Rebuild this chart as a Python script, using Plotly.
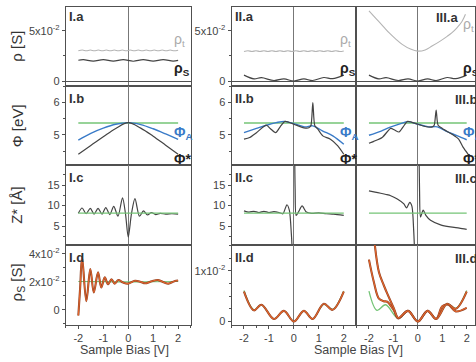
import plotly.graph_objects as go

FONT = "Arial, Liberation Sans, sans-serif"
W, H = 476, 362

# ---------------- data ----------------
# Row a : rho_t and rho_S  [S]
wave_x = [-2.0, -1.84, -1.68, -1.52, -1.36, -1.2, -1.04, -0.88, -0.72, -0.56, -0.4, -0.24, -0.08,
          0.08, 0.24, 0.4, 0.56, 0.72, 0.88, 1.04, 1.2, 1.36, 1.52, 1.68, 1.84, 2.0]
rho_t_I = [0.0301, 0.0309, 0.0301, 0.0309, 0.0301, 0.0309, 0.0301, 0.0309, 0.0301, 0.0309, 0.0301, 0.0309, 0.0301,
           0.0309, 0.0301, 0.0309, 0.0301, 0.0309, 0.0301, 0.0309, 0.0301, 0.0309, 0.0301, 0.0309, 0.0301, 0.0307]
rho_t_II = [0.0294, 0.0302, 0.0294, 0.0302, 0.0294, 0.0302, 0.0294, 0.0302, 0.0294, 0.0302, 0.0294, 0.0302, 0.0294,
            0.0302, 0.0294, 0.0302, 0.0294, 0.0302, 0.0294, 0.0302, 0.0294, 0.0302, 0.0294, 0.0302, 0.0294, 0.0300]
rho_S_I_x = [-2.0, -1.8, -1.4, -1.0, -0.6, -0.2, 0.2, 0.6, 1.0, 1.4, 1.8, 2.0]
rho_S_I_y = [0.0207, 0.0213, 0.0198, 0.0214, 0.0198, 0.0213, 0.0197, 0.0213, 0.0198, 0.0213, 0.0198, 0.0206]
rho_t_III_x = [-2.0, -1.7, -1.4, -1.18, -0.9, -0.64, -0.3, 0.0, 0.3, 0.58, 0.9, 1.2, 1.4, 1.6, 1.8, 1.95]
rho_t_III_y = [0.0698, 0.0620, 0.0540, 0.0482, 0.0418, 0.0365, 0.0318, 0.0298, 0.0310, 0.0348, 0.0395,
               0.0445, 0.0482, 0.0530, 0.0590, 0.0665]

# rho_S (rows a and d, columns II / III)
rs_x = [-2.0, -1.6, -1.3, -0.8, -0.4, 0.0, 0.4, 0.75, 1.2, 1.55, 2.0]
rs_II_orange = [0.0059, 0.0022, 0.0033, 0.0005, 0.0021, 0.0000, 0.0021, 0.0005, 0.0035, 0.0023, 0.0059]
rs_II_green = [0.0061, 0.0023, 0.0033, 0.0005, 0.0021, 0.0000, 0.0021, 0.0005, 0.0034, 0.0024, 0.0060]

# Row b : work functions [eV]
green_b_x = [-2.0, 2.0]
green_b_y = [5.37, 5.37]
phiA_I_x = [-2.0, -1.5, -1.0, -0.5, 0.0, 0.5, 1.0, 1.5, 2.0]
phiA_I_y = [4.84, 5.05, 5.21, 5.33, 5.38, 5.32, 5.19, 5.03, 4.86]
phiS_I_y = [4.40, 4.67, 4.94, 5.20, 5.38, 5.21, 4.96, 4.68, 4.40]
phiA_II_x = [-2.0, -1.5, -1.1, -0.71, -0.37, 0.0, 0.43, 0.76, 1.16, 1.56, 2.0]
phiA_II_y = [5.07, 5.20, 5.30, 5.38, 5.42, 5.35, 5.25, 5.28, 5.12, 4.97, 4.71]
phiS_II_x = [-2.0, -1.77, -1.5, -1.1, -0.95, -0.73, -0.55, -0.35, 0.0, 0.4, 0.6, 0.68, 0.76, 0.84,
             0.96, 1.16, 1.45, 1.76, 2.0]
phiS_II_y = [4.87, 4.92, 5.07, 5.30, 5.20, 5.07, 5.25, 5.42, 5.33, 5.22, 5.22, 5.28, 6.00, 5.28,
             5.18, 4.97, 4.87, 4.66, 4.40]
phiA_III_x = [-2.0, -1.5, -1.1, -0.7, -0.4, 0.0, 0.45, 0.8, 1.2, 1.6, 2.0]
phiA_III_y = [4.99, 5.12, 5.25, 5.35, 5.41, 5.33, 5.25, 5.25, 5.10, 4.98, 4.85]
phiS_III_x = [-2.0, -1.8, -1.46, -1.11, -0.95, -0.77, -0.6, -0.42, 0.0, 0.3, 0.59, 0.67, 0.75, 0.83,
              1.0, 1.4, 1.67, 1.85, 2.06]
phiS_III_y = [4.74, 4.80, 4.92, 5.20, 5.15, 5.09, 5.25, 5.42, 5.33, 5.26, 5.25, 5.30, 5.77, 5.30,
              5.20, 5.02, 4.87, 4.62, 4.40]

# Row c : Z* [A]
green_c_x = [-2.0, 2.0]
green_c_y = [8.15, 8.15]
Z_I_x = [-2.0, -1.85, -1.69, -1.52, -1.37, -1.21, -1.05, -0.9, -0.74, -0.58, -0.41, -0.23, -0.11,
         0.0, 0.13, 0.27, 0.45, 0.61, 0.77, 0.93, 1.1, 1.28, 1.5, 1.75, 2.0]
Z_I_y = [8.1, 9.4, 8.0, 9.3, 7.9, 9.3, 7.9, 9.5, 7.8, 9.8, 7.4, 11.9, 8.0,
         2.3, 8.0, 11.7, 7.4, 8.7, 7.7, 8.3, 7.8, 8.1, 7.9, 8.0, 7.9]
Z_II_left_x = [-2.0, -1.8, -1.6, -1.4, -1.2, -1.0, -0.8, -0.6, -0.44, -0.28, -0.18, -0.1, -0.05]
Z_II_left_y = [8.7, 8.4, 8.6, 8.3, 8.6, 8.3, 8.5, 8.3, 8.0, 10.2, 8.8, 3.0, -3.0]
Z_II_right_x = [0.02, 0.05, 0.09, 0.18, 0.33, 0.5, 0.7, 1.0, 1.3, 1.6, 2.0]
Z_II_right_y = [30.0, 14.0, 7.6, 8.4, 9.9, 8.4, 8.1, 8.2, 8.0, 7.9, 7.6]
Z_III_left_x = [-2.0, -1.75, -1.52, -1.3, -1.11, -0.84, -0.57, -0.46, -0.33, -0.24, -0.17, -0.12]
Z_III_left_y = [13.6, 13.3, 13.0, 12.7, 12.4, 11.6, 10.4, 9.4, 10.8, 9.8, 4.0, -3.0]
Z_III_right_x = [0.03, 0.07, 0.11, 0.22, 0.33, 0.52, 0.93, 1.33, 1.7, 2.0]
Z_III_right_y = [30.0, 14.0, 7.2, 8.9, 7.6, 6.4, 5.3, 4.8, 4.5, 4.2]

# Row d : rho_S [S]
d_I_x = [-2.0, -1.93, -1.85, -1.68, -1.52, -1.38, -1.21, -1.08, -0.94, -0.81, -0.67, -0.54, -0.4, -0.2,
         0.0, 0.27, 0.5, 0.67, 0.95, 1.2, 1.45, 1.61, 1.85, 2.0]
d_I_y = [-0.004, 0.015, 0.0376, 0.0063, 0.0291, 0.0124, 0.0268, 0.0160, 0.0232, 0.0183, 0.0219, 0.0187,
         0.0213, 0.0195, 0.0188, 0.0208, 0.0200, 0.0190, 0.0205, 0.0213, 0.0195, 0.0188, 0.0205, 0.0210]
green_d_I_x = [-2.0, -1.0, 0.0, 1.0, 2.0]
green_d_I_y = [0.0203, 0.0202, 0.0200, 0.0201, 0.0203]
green_d_III_x = [-2.0, -1.67, -1.32, -0.8, -0.4, 0.0, 0.4, 0.75, 1.2, 1.55, 2.0]
green_d_III_y = [0.0060, 0.0022, 0.0033, 0.0006, 0.0021, 0.0000, 0.0021, 0.0005, 0.0035, 0.0026, 0.0061]
orA_III_x = [-1.85, -1.77, -1.59, -1.39, -1.25, -0.98, -0.8, -0.4, 0.0, 0.4, 0.75, 1.2, 1.55, 2.0]
orA_III_y = [0.0200, 0.0155, 0.0097, 0.0071, 0.0055, 0.0026, 0.0007, 0.0021, 0.0000, 0.0021, 0.0005,
             0.0035, 0.0025, 0.0059]
orB_III_x = [-2.0, -1.8, -1.59, -1.4, -1.25, -0.98, -0.8, -0.4, 0.0, 0.4, 0.75, 1.0, 1.25, 1.55, 2.0]
orB_III_y = [0.0122, 0.0078, 0.0045, 0.0040, 0.0039, 0.0022, 0.0006, 0.0021, 0.0000, 0.0021, 0.0005,
             0.0030, 0.0033, 0.0020, 0.0027]

# ---------------- styles ----------------
C_GREEN = "#74c476"
C_BLUE = "#3a7bc8"
C_DARK = "#444444"
C_LGRAY = "#b4b4b4"
C_OR = "#e4652c"
C_ORD = "#8e4427"
C_AX = "#505050"

# pixel layout
col_px = [(66, 191), (232, 357), (357, 476)]
row_px = [(7, 86), (86, 166), (166, 246), (246, 327)]
x_ranges = [[-2.5, 2.5], [-2.5, 2.5], [-2.52, 2.34]]
y_ranges = [
    [[-0.0045, 0.0738]] * 3,
    [[4.065, 6.53]] * 3,
    [[0.46, 19.88]] * 3,
    [[-0.0109, 0.0466], [-0.00073, 0.01516], [-0.00073, 0.01516]],
]

fig = go.Figure()


def ax(r, c):
    return r * 3 + c + 1


def add(r, c, x, y, color, width, shape="spline", smoothing=1.0):
    k = ax(r, c)
    fig.add_trace(go.Scatter(
        x=x, y=y, mode="lines",
        line=dict(color=color, width=width, shape=shape,
                  smoothing=smoothing if shape == "spline" else None),
        xaxis="x" if k == 1 else f"x{k}", yaxis="y" if k == 1 else f"y{k}",
        showlegend=False, hoverinfo="skip", cliponaxis=True))


def add_orange(r, c, x, y):
    add(r, c, x, y, C_ORD, 2.1)
    add(r, c, x, y, C_OR, 1.1)


# row a
add(0, 0, wave_x, rho_t_I, C_LGRAY, 1.1)
add(0, 0, rho_S_I_x, rho_S_I_y, C_DARK, 1.2)
add(0, 1, wave_x, rho_t_II, C_LGRAY, 1.1)
add(0, 1, rs_x, rs_II_orange, C_DARK, 1.2)
add(0, 2, rho_t_III_x, rho_t_III_y, C_LGRAY, 1.1)
add(0, 2, rs_x, rs_II_orange, C_DARK, 1.2)

# row b
add(1, 0, green_b_x, green_b_y, C_GREEN, 1.4, "linear")
add(1, 0, phiA_I_x, phiA_I_y, C_BLUE, 1.4)
add(1, 0, phiA_I_x, phiS_I_y, C_DARK, 1.2)
add(1, 1, green_b_x, green_b_y, C_GREEN, 1.4, "linear")
add(1, 1, phiA_II_x, phiA_II_y, C_BLUE, 1.4)
add(1, 1, phiS_II_x, phiS_II_y, C_DARK, 1.2, smoothing=0.7)
add(1, 2, green_b_x, green_b_y, C_GREEN, 1.4, "linear")
add(1, 2, phiA_III_x, phiA_III_y, C_BLUE, 1.4)
add(1, 2, phiS_III_x, phiS_III_y, C_DARK, 1.2, smoothing=0.7)

# row c
add(2, 0, Z_I_x, Z_I_y, C_DARK, 1.2, smoothing=0.8)
add(2, 0, green_c_x, green_c_y, C_GREEN, 1.4, "linear")
add(2, 1, Z_II_left_x, Z_II_left_y, C_DARK, 1.2, smoothing=0.7)
add(2, 1, Z_II_right_x, Z_II_right_y, C_DARK, 1.2, smoothing=0.7)
add(2, 1, green_c_x, green_c_y, C_GREEN, 1.4, "linear")
add(2, 2, Z_III_left_x, Z_III_left_y, C_DARK, 1.2, smoothing=0.7)
add(2, 2, Z_III_right_x, Z_III_right_y, C_DARK, 1.2, smoothing=0.7)
add(2, 2, green_c_x, green_c_y, C_GREEN, 1.4, "linear")

# row d
add(3, 0, green_d_I_x, green_d_I_y, C_GREEN, 1.2)
add_orange(3, 0, d_I_x, d_I_y)
add(3, 1, rs_x, rs_II_green, C_GREEN, 1.3)
add_orange(3, 1, rs_x, rs_II_orange)
add(3, 2, green_d_III_x, green_d_III_y, C_GREEN, 1.3)
add_orange(3, 2, orB_III_x, orB_III_y)
add_orange(3, 2, orA_III_x, orA_III_y)

# ---------------- axes ----------------
ytick_specs = [
    dict(tickvals=[0, 0.05], ticktext=["0", "5x10<sup>-2</sup>"], minor_dtick=0.025),
    dict(tickvals=[5, 6], ticktext=["5", "6"], minor_dtick=0.5),
    dict(tickvals=[5, 10, 15], ticktext=["5", "10", "15"], minor_dtick=2.5),
]
yd_specs = [
    dict(tickvals=[0, 0.02, 0.04], ticktext=["0", "2x10<sup>-2</sup>", "4x10<sup>-2</sup>"], minor_dtick=0.01),
    dict(tickvals=[0, 0.01], ticktext=["0", "1x10<sup>-2</sup>"], minor_dtick=0.0025),
]

layout = {}
tickfont = dict(family=FONT, size=11, color="#444")
for r in range(4):
    for c in range(3):
        k = ax(r, c)
        xn = "xaxis" if k == 1 else f"xaxis{k}"
        yn = "yaxis" if k == 1 else f"yaxis{k}"
        x0, x1 = col_px[c]
        y0, y1 = row_px[r]
        xa = dict(domain=[x0 / W, x1 / W], range=x_ranges[c], anchor=f"y{k}" if k > 1 else "y",
                  showgrid=False, showline=True, mirror=True, linecolor=C_AX, linewidth=1,
                  zeroline=True, zerolinecolor="#777", zerolinewidth=1.2, fixedrange=True)
        if r == 3:
            xa.update(tickvals=[-2, -1, 0, 1, 2], ticktext=["-2", "-1", "0", "1", "2"],
                      ticks="outside", ticklen=3, tickcolor=C_AX, tickfont=tickfont,
                      minor=dict(ticks="outside", ticklen=2, dtick=0.5, tick0=0, tickcolor=C_AX))
        else:
            xa.update(showticklabels=False, ticks="")
        ya = dict(domain=[1 - y1 / H, 1 - y0 / H], range=y_ranges[r][c], anchor=f"x{k}" if k > 1 else "x",
                  showgrid=False, showline=True, mirror=True, linecolor=C_AX, linewidth=1,
                  zeroline=(r == 0), zerolinecolor=C_AX, zerolinewidth=1, fixedrange=True)
        if c == 2:
            ya.update(showticklabels=False, ticks="")
        else:
            spec = ytick_specs[r] if r < 3 else yd_specs[c]
            ya.update(tickvals=spec["tickvals"], ticktext=spec["ticktext"], ticks="outside",
                      ticklen=3, tickcolor=C_AX, tickfont=tickfont,
                      minor=dict(ticks="outside", ticklen=2, dtick=spec["minor_dtick"], tick0=0,
                                 tickcolor=C_AX))
        layout[xn] = xa
        layout[yn] = ya

# ---------------- annotations ----------------
ann = []


def pa(px, py, text, size=13, color="#333", bold=False, xanchor="left", yanchor="middle", angle=0):
    t = f"<b>{text}</b>" if bold else text
    ann.append(dict(x=px / W, y=1 - py / H, xref="paper", yref="paper", text=t, showarrow=False,
                    xanchor=xanchor, yanchor=yanchor, textangle=angle,
                    font=dict(family=FONT, size=size, color=color)))


panel_names = ["a", "b", "c", "d"]
for r in range(4):
    top = row_px[r][0]
    off = 0 if r == 0 else 3
    pa(67, top + off, f"I.{panel_names[r]}", 13, "#333", True, yanchor="top")
    pa(233, top + off, f"II.{panel_names[r]}", 13, "#333", True, yanchor="top")
    pa(435 if r == 0 else 454, top + off + 1, f"III.{panel_names[r]}", 13, "#333", True, yanchor="top")

# curve labels
for lx in (172, 339, 462):
    pa(lx, 40 if lx != 462 else 25, "ρ<sub>t</sub>", 14, "#aaaaaa")
    pa(lx, 69, "ρ<sub>S</sub>", 14, "#222", True)
    pa(lx, 134, "Φ<sub>A</sub>", 14, C_BLUE, True)
    pa(lx, 160, "Φ*", 14, "#222", True)

# axis titles
pa(17, 46, "ρ [S]", 15, "#333", xanchor="center", angle=-90)
pa(17, 126, "Φ [eV]", 15, "#333", xanchor="center", angle=-90)
pa(17, 206, "Z* [Å]", 15, "#333", xanchor="center", angle=-90)
pa(17, 284, "ρ<sub>S</sub> [S]", 15, "#333", xanchor="center", angle=-90)
pa(125, 352, "Sample Bias [V]", 12.5, "#444", xanchor="center")
pa(359, 352, "Sample Bias [V]", 12.5, "#444", xanchor="center")

fig.update_layout(width=W, height=H, margin=dict(l=0, r=0, t=0, b=0),
                  paper_bgcolor="white", plot_bgcolor="white",
                  font=dict(family=FONT), annotations=ann, **layout)

fig.write_html("out.html", include_plotlyjs=True, config={"displayModeBar": False})
